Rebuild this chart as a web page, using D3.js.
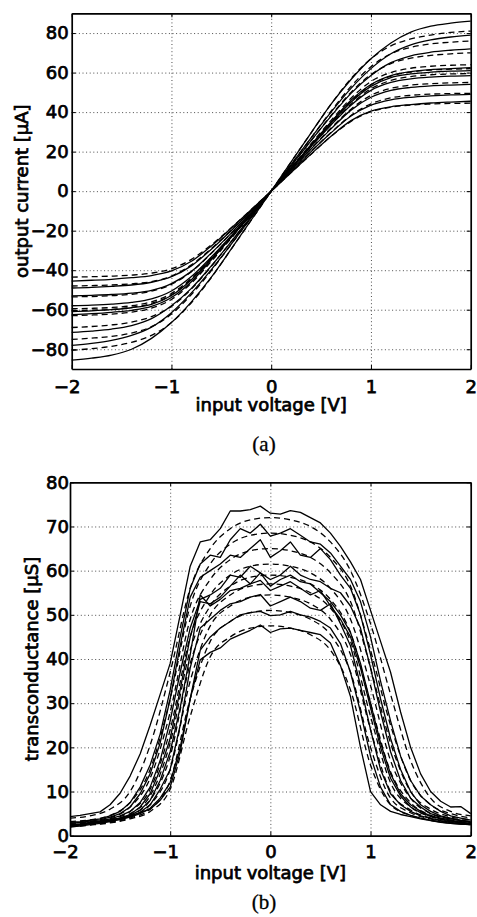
<!DOCTYPE html>
<html>
<head>
<meta charset="utf-8">
<script src="https://cdn.jsdelivr.net/npm/d3@7"></script>
<style>
  body { margin: 0; background: #fff; }
  svg { display: block; }
  .tick text, .lbl {
    font-family: "DejaVu Sans", sans-serif;
    font-size: 18px;
    fill: #000;
    stroke: #000;
    stroke-width: 0.75px;
  }
  .cap { font-family: "Liberation Serif", serif; font-size: 21px; fill: #000; stroke: #000; stroke-width: 0.3px; }
  .grid line { stroke: #000; stroke-width: 1; stroke-dasharray: 1 2.6; opacity: 0.7; }
</style>
</head>
<body>
<svg width="477" height="917"></svg>
<script>
// ---- panel (a): output current vs input voltage ----
const voltA = [-2,-1.8,-1.6,-1.4,-1.2,-1,-0.8,-0.6,-0.4,-0.2,0,0.2,0.4,0.6,0.8,1,1.2,1.4,1.6,1.8,2];
const ticksAX = [-2,-1,0,1,2];
const ticksAY = [-80,-60,-40,-20,0,20,40,60,80];

// measured (solid)
const currentMeasured = [
  [-85.5,-84.5,-83,-80,-74.5,-66.5,-56,-43.5,-29.2,-14.6,0,14.8,29.5,44,56.5,67,75,80.5,83.5,85,86],
  [-78,-77,-75.5,-73,-68.8,-61.5,-51.5,-39.7,-26.8,-13.4,0,13.5,27,40,52,62,69.5,74,76.5,78,79],
  [-71.5,-70.8,-69.8,-68,-64.5,-58,-49.2,-37.8,-25.5,-12.8,0,12.8,25.6,38,49.5,58.5,65,68.5,70.3,71.3,72],
  [-62.5,-62,-61.3,-60.3,-58.3,-53.8,-45.8,-34.8,-23.4,-11.8,0,11.8,23.5,35,46,54,58.5,60.5,61.5,62,62.5],
  [-61,-60.6,-60,-59,-57.3,-52.8,-44.8,-34.2,-23,-11.6,0,11.6,23,34.3,45,53,57.5,59.3,60.2,60.7,61],
  [-58,-57.7,-57.2,-56.3,-54.5,-50.5,-43.2,-33.3,-22.5,-11.3,0,11.4,22.6,33.5,43.5,51,55,56.8,57.7,58.2,58.5],
  [-53,-52.7,-52.3,-51.6,-50.2,-46.8,-40.6,-31.3,-21.2,-10.7,0,10.7,21.3,31.5,41,47.5,51,52.5,53.3,53.7,54],
  [-49,-48.7,-48.2,-47.5,-46.1,-43.3,-37.8,-29.4,-19.9,-10,0,10,20,29.5,38,43.5,46.2,47.5,48.2,48.7,49],
  [-45.5,-45.1,-44.6,-43.8,-42.7,-40.4,-35.5,-27.7,-18.7,-9.4,0,9.4,18.8,27.8,35.7,40.5,42.7,43.8,44.6,45.1,45.5]
];
// model (dashed)
const currentModel = [
  [-80.5,-79.7,-78.5,-76.5,-73,-66.5,-56.5,-43.7,-29.3,-14.7,0,14.8,29.5,44,57,67,73.5,77,79,80.3,81],
  [-75,-74.4,-73.5,-71.8,-68.6,-62.2,-52.3,-40.2,-26.8,-13.4,0,13.5,27,40.5,53,63,69.5,72.8,74.5,75.4,76],
  [-69,-68.5,-67.7,-66.3,-63.5,-58.3,-49.5,-38,-25.4,-12.7,0,12.8,25.6,38.3,50,59,64.5,67.3,68.7,69.5,70],
  [-63,-62.7,-62.2,-61.2,-59.2,-54.8,-46.5,-35.5,-23.8,-11.9,0,12,24,35.8,47,55.5,60,62.2,63.2,63.7,64],
  [-60.5,-60.2,-59.8,-58.8,-56.8,-52.5,-44.5,-34.2,-23,-11.6,0,11.7,23.3,34.8,45.5,53.8,58.2,60.3,61.3,61.7,62],
  [-59.5,-59.3,-58.9,-58,-56,-51.8,-44,-33.8,-22.7,-11.4,0,11.4,22.7,33.8,44,51.8,56,58,58.9,59.3,59.5],
  [-53.5,-53.3,-52.9,-52.2,-50.6,-47.2,-40.8,-31.5,-21.3,-10.7,0,10.8,21.5,32,41.5,48.5,52,53.7,54.4,54.8,55],
  [-48,-47.8,-47.5,-46.9,-45.8,-43,-37.3,-29,-19.7,-9.9,0,10,20,29.7,38.3,44.2,47.2,48.5,49.1,49.4,49.5],
  [-43.5,-43.3,-43,-42.5,-41.5,-39.3,-34.5,-27.2,-18.5,-9.3,0,9.4,18.7,27.7,35.3,40.2,42.5,43.6,44.1,44.4,44.5]
];

// ---- panel (b): transconductance vs input voltage ----
const voltB = [-2,-1.9,-1.8,-1.7,-1.6,-1.5,-1.4,-1.3,-1.2,-1.1,-1,-0.9,-0.8,-0.7,-0.6,-0.5,-0.4,-0.3,-0.2,-0.1,
               0,0.1,0.2,0.3,0.4,0.5,0.6,0.7,0.8,0.9,1,1.1,1.2,1.3,1.4,1.5,1.6,1.7,1.8,1.9,2];
const voltBModel = voltA;
const ticksBX = [-2,-1,0,1,2];
const ticksBY = [0,10,20,30,40,50,60,70,80];

const gmMeasured = [
  [4.3,4.6,5,5.4,7,9.6,13.5,18.5,25,32,39,50,61,66.5,67,69.5,73.5,73.5,73.8,74.6,73,72.8,73.6,73.2,72,70.8,68.5,65.5,62,58,51,44,37,28,20,14,10,7.8,6.5,6.6,5],
  [3,3.2,3.5,3.8,4.5,5.5,7.5,11,16,23,33,45,56,61.5,63.5,63,67,69.5,68.5,70.5,67.8,68.5,69.5,68,66.5,66,64,61,58,53,45,35,26,18,12.5,9,7,5.5,4.5,4,3.5],
  [2.8,3,3.3,3.6,4.2,5,6.5,9.5,14,21,31,43,54,58.5,60,61.5,63.5,63,65,67,63,64.5,66.5,63.5,63,65,62.5,59,56,50,41,31,22,15,10,7,5.5,4.5,4,3.5,3.2],
  [2.5,2.7,3,3.3,3.8,4.5,5.5,7.5,11,17,26,37,47,53.5,54.5,56,59,58.5,61,59.5,58,59,61,59,58,57.5,56,55,52,47,38,28,19,12.5,8.5,6.5,5,4.3,3.8,3.4,3],
  [2.2,2.4,2.7,3,3.4,4,4.8,6.5,9.5,15,22,33,45,53,52.5,54,56.5,59,57,59.5,56.5,58,59,57.5,57,55,53,50,46,39,30,21,14,9.5,7,5.5,4.5,4,3.5,3,2.8],
  [2.3,2.5,2.8,3.1,3.5,4,4.6,5.8,8,12.5,19,29,41,54.5,52,53.5,55.5,56,57,57.8,55.5,56.5,57.5,56,54.5,55.5,52,49,45,38,29,20,13,9,6.5,5.2,4.4,3.8,3.3,3,2.7],
  [2,2.2,2.5,2.8,3.2,3.7,4.3,5.3,7,10.5,15,25,38,47,49,51,52.5,53,54,54.6,52,53,54,53,51.5,51,52.5,48,43,34,24,15,9.5,7,5.5,4.5,3.9,3.4,3,2.7,2.5],
  [2.4,2.6,2.8,3,3.3,3.7,4.2,5,6.2,8.5,12,20,31,42,45,47,48.5,50,50.5,50.8,49.8,50,50.8,50,49.5,48.5,47,43.5,37,28,18,11,7,5.5,4.6,4,3.5,3.1,2.8,2.6,2.5],
  [2,2.5,3,3.3,3.6,4,4.5,5.2,6,8,11,19,31,39.8,41.5,42.5,44.5,45.5,46.5,47.7,46,46.8,47,46.5,46,45.5,43.6,38.5,31.5,20,10,7,5.5,4.8,4.3,3.8,3.4,3,2.8,2.6,2.5]
];
const gmModel = [
  [4,4.5,6,10,20.5,37,56,65,69.5,71.5,72,71.5,70,66.5,60,48,32,17,8.5,5.5,4.5],
  [3.2,3.6,4.6,7.5,15,31,52,61.5,66,68,68.5,68,66.5,63,56.5,42,25,12.5,7,5,4],
  [2.8,3.2,4,6.5,13,28,49,58,62.5,64.5,65,64.5,63,59.5,53,38,21,10,6,4.3,3.6],
  [2.6,3,3.7,5.5,10.5,24,45,54.5,59,61,61.5,61,59.5,56,49,34,17,8.5,5,3.8,3.2],
  [2.4,2.8,3.4,5,9,21,42,52,56.5,58.5,59,58.5,57,53.5,46,30,14.5,7.5,4.6,3.5,3],
  [2.3,2.7,3.3,4.6,8,18,39,50,54.5,56.5,57,56.5,55,51.5,44,27,12,6.5,4.3,3.3,2.9],
  [2.2,2.6,3.2,4.3,7,15,35,47.5,52,54,54.5,54,52.5,49,41,24,10,5.8,4,3.2,2.8],
  [2.1,2.5,3,4,6,12.5,31,44,48.5,50.5,51,50.5,49,45.5,37,20,8.5,5.2,3.8,3,2.7],
  [2,2.4,2.9,3.8,5.5,10.5,27,40.5,45,47,47.5,47,45.5,42,33,16,7,4.6,3.5,2.9,2.6]
];

const svg = d3.select("svg");
const fmt = d3.format("~g");

function drawPanel(opt) {
  const x = opt.x, y = opt.y;
  const [x0, x1] = x.range();
  const [y0, y1] = y.range();
  const g = svg.append("g");

  // dotted grid
  g.append("g").attr("class", "grid").attr("transform", `translate(0,${y0})`)
    .call(d3.axisBottom(x).tickValues(opt.xTicks.slice(1, -1)).tickSize(-(y0 - y1)).tickFormat(""));
  g.append("g").attr("class", "grid").attr("transform", `translate(${x0},0)`)
    .call(d3.axisLeft(y).tickValues(opt.yTicks.filter(v => y(v) < y0 - 1 && y(v) > y1 + 1)).tickSize(-(x1 - x0)).tickFormat(""));
  g.selectAll(".grid .domain").remove();

  // curves
  const lineM = d3.line().x((d, i) => x(opt.vModel[i])).y(d => y(d)).curve(d3.curveMonotoneX);
  const lineS = d3.line().x((d, i) => x(opt.vMeas[i])).y(d => y(d)).curve(opt.measCurve);
  g.append("g").selectAll("path").data(opt.model).enter().append("path")
    .attr("d", lineM).attr("fill", "none").attr("stroke", "#000")
    .attr("stroke-width", 1.3).attr("stroke-dasharray", "6 4");
  g.append("g").selectAll("path").data(opt.meas).enter().append("path")
    .attr("d", lineS).attr("fill", "none").attr("stroke", "#000")
    .attr("stroke-width", 1.3).attr("stroke-linejoin", "round");

  // frame with inward ticks on every side
  const bottom = g.append("g").attr("transform", `translate(0,${y0})`)
    .call(d3.axisBottom(x).tickValues(opt.xTicks).tickFormat(fmt).tickSizeInner(-4).tickSizeOuter(0));
  bottom.selectAll("text").attr("y", opt.xLabelDy).attr("dy", 0)
    .attr("dx", d => d < 0 ? -5 : 0);
  g.append("g").attr("transform", `translate(${x0},0)`)
    .call(d3.axisLeft(y).tickValues(opt.yTicks).tickFormat(fmt).tickSizeInner(-4).tickSizeOuter(0).tickPadding(opt.yPad));
  g.append("g").attr("transform", `translate(0,${y1})`)
    .call(d3.axisTop(x).tickValues(opt.xTicks).tickSizeInner(-4).tickSizeOuter(0).tickFormat(""));
  g.append("g").attr("transform", `translate(${x1},0)`)
    .call(d3.axisRight(y).tickValues(opt.yTicks).tickSizeInner(-4).tickSizeOuter(0).tickFormat(""));
  g.selectAll(".domain").attr("stroke", "#000").attr("stroke-width", 1.7);
  g.selectAll(".tick line").attr("stroke", "#000").attr("stroke-width", 1);

  // titles
  g.append("text").attr("class", "lbl").attr("x", (x0 + x1) / 2).attr("y", opt.xTitleY)
    .attr("text-anchor", "middle").text("input voltage [V]");
  g.append("text").attr("class", "lbl")
    .attr("transform", `translate(${opt.yTitleX},${(y0 + y1) / 2}) rotate(-90)`)
    .attr("text-anchor", "middle").text(opt.yTitle);
  g.append("text").attr("class", "cap").attr("x", 264).attr("y", opt.capY)
    .attr("text-anchor", "middle").text(opt.cap);
}

drawPanel({
  x: d3.scaleLinear().domain([-2, 2]).range([71.7, 470.7]),
  y: d3.scaleLinear().domain([-90, 90]).range([369, 13.3]),
  xTicks: ticksAX, yTicks: ticksAY,
  vMeas: voltA, vModel: voltA,
  meas: currentMeasured, model: currentModel,
  measCurve: d3.curveMonotoneX,
  xLabelDy: 24.3, yPad: 3,
  xTitleY: 410.7, yTitleX: 28, yTitle: "output current [\u03bcA]",
  capY: 451, cap: "(a)"
});

drawPanel({
  x: d3.scaleLinear().domain([-2, 2]).range([70, 470.7]),
  y: d3.scaleLinear().domain([0, 80]).range([835.7, 482.3]),
  xTicks: ticksBX, yTicks: ticksBY,
  vMeas: voltB, vModel: voltBModel,
  meas: gmMeasured, model: gmModel,
  measCurve: d3.curveLinear,
  xLabelDy: 22.6, yPad: 1,
  xTitleY: 879, yTitleX: 38, yTitle: "transconductance [\u03bcS]",
  capY: 909, cap: "(b)"
});
</script>
</body>
</html>
